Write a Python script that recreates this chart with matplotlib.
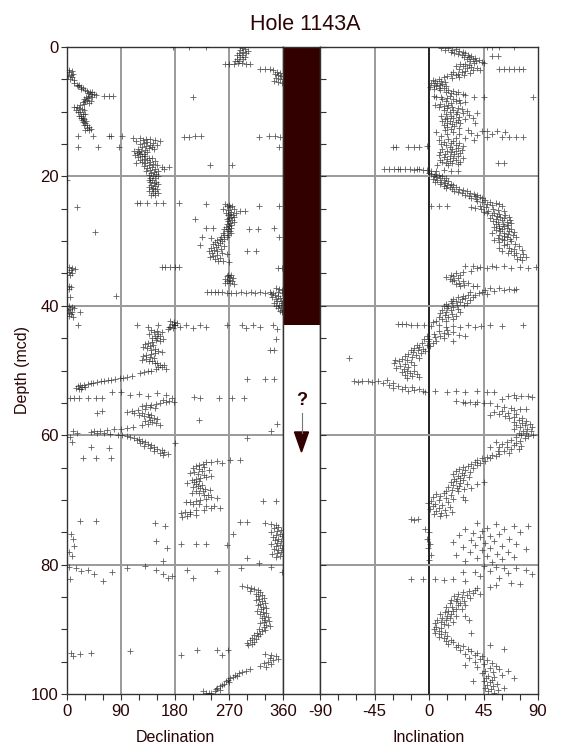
import numpy as np
import matplotlib
matplotlib.use("Agg")
import matplotlib.pyplot as plt
from matplotlib.patches import Polygon
from matplotlib.ticker import MultipleLocator

plt.rcParams['font.family'] = ['Liberation Sans', 'DejaVu Sans']
plt.rcParams['axes.unicode_minus'] = False

# declination readings (depth mcd, declination deg), upper part of hole
dec_upper = [
    (0.1, 291), (0.3, 297), (0.4, 288), (0.6, 301), (0.7, 294), (0.9, 286), (1.0, 299), (1.2, 292),
    (1.3, 284), (1.5, 296), (1.6, 289), (1.8, 283), (1.9, 293), (2.1, 287), (2.2, 280), (2.4, 291),
    (2.5, 285), (2.6, 298), (2.7, 305), (2.7, 263), (2.7, 270), (2.7, 278), (0.0, 177), (0.0, 204),
    (0.0, 232), (3.4, 322), (3.4, 330), (3.4, 338), (3.6, 344), (3.8, 350), (4.0, 355), (4.1, 347),
    (4.3, 352), (4.5, 357), (4.8, 349), (5.0, 355), (5.2, 345), (5.4, 352), (5.5, 358),
    (3.5, 4), (3.7, 8), (3.9, 3), (4.1, 10), (4.3, 6), (4.5, 2), (4.7, 9), (4.9, 5), (5.1, 12),
    (5.6, 12), (5.8, 16), (5.9, 20), (6.1, 18), (6.2, 24), (6.4, 27), (6.5, 23), (6.6, 30), (6.8, 33),
    (6.9, 38), (7.0, 42), (7.1, 35), (7.2, 40), (7.3, 45), (7.4, 48), (7.5, 62), (7.5, 70), (7.5, 76),
    (7.6, 37), (7.7, 31), (7.8, 42), (7.9, 35), (8.0, 28), (8.2, 33), (8.3, 40), (8.4, 30), (8.5, 26),
    (8.6, 36), (8.8, 29), (9.0, 22), (9.2, 17), (9.3, 12), (9.4, 20), (9.6, 25), (9.7, 15), (9.8, 28),
    (10.0, 22), (10.1, 18), (10.3, 26), (10.4, 30), (10.6, 24), (10.7, 20), (10.9, 27), (11.0, 23),
    (11.2, 29), (11.3, 25), (11.5, 32), (11.6, 27), (11.8, 30), (12.0, 34), (12.1, 29), (12.3, 37),
    (12.5, 33), (12.6, 40), (12.8, 36), (12.9, 30), (7.8, 210), (20.5, 0.5),
    (13.8, 18), (13.8, 44), (13.8, 70), (13.8, 74), (13.8, 92), (13.9, 195), (13.9, 203), (13.8, 213),
    (13.8, 224), (13.9, 320), (13.8, 337), (13.8, 346), (13.9, 355), (15.5, 18), (15.5, 52), (15.5, 87),
    (15.5, 354), (18.2, 238), (18.2, 275),
    (14.0, 110), (14.1, 122), (14.2, 131), (14.2, 139), (14.3, 147), (14.4, 126), (14.5, 155), (14.6, 115),
    (14.7, 134), (14.8, 143), (14.9, 128), (15.0, 121), (15.1, 138), (15.2, 150), (15.3, 132), (15.4, 125),
    (15.5, 141), (15.6, 136), (15.7, 118), (15.8, 145), (15.9, 130), (16.0, 112), (16.1, 124), (16.2, 133),
    (16.3, 120), (16.4, 116), (16.5, 128), (16.6, 122), (16.7, 113), (16.8, 130), (16.9, 125), (17.0, 119),
    (17.1, 136), (17.2, 142), (17.3, 128), (17.4, 121), (17.5, 133), (17.6, 147), (17.7, 125), (17.8, 138),
    (17.9, 115), (18.0, 130), (18.1, 144), (18.2, 136), (18.3, 150), (18.4, 128), (18.5, 141), (18.6, 158),
    (18.6, 170), (18.7, 134), (18.8, 146), (18.9, 162), (19.0, 139), (19.1, 151), (19.2, 131), (19.3, 145),
    (19.5, 140), (19.6, 148), (19.8, 137), (19.9, 143), (20.0, 151), (20.2, 139), (20.3, 146), (20.5, 136),
    (20.6, 142), (20.8, 149), (20.9, 138), (21.0, 145), (21.2, 152), (21.3, 140), (21.5, 147), (21.6, 137),
    (21.8, 144), (21.9, 150), (22.0, 141), (22.2, 136), (22.3, 147), (22.5, 143), (22.6, 151), (22.8, 140),
    (22.9, 146), (24.1, 116), (24.1, 122), (24.1, 133), (24.1, 149), (24.1, 160), (24.1, 187), (24.7, 16),
    (28.6, 46), (24.2, 232), (24.6, 320), (24.6, 354), (26.6, 214), (28.0, 232), (28.0, 243), (28.1, 304),
    (28.1, 318), (28.0, 345), (29.4, 225), (29.5, 240), (30.6, 222), (31.5, 300), (31.5, 315), (29.3, 353),
    (24.3, 263), (24.4, 270), (24.5, 275), (24.6, 266), (24.8, 272), (25.0, 260), (25.1, 279), (25.2, 268),
    (25.3, 288), (25.4, 296), (25.5, 274), (25.6, 265), (25.7, 281), (25.8, 271), (25.9, 276), (26.0, 268),
    (26.2, 273), (26.3, 279), (26.5, 270), (26.6, 266), (26.8, 275), (26.9, 269), (27.0, 278), (27.2, 272),
    (27.3, 266), (27.5, 274), (27.6, 270), (27.8, 265), (27.9, 273), (28.1, 268), (28.2, 262), (28.4, 271),
    (28.5, 266), (28.7, 274), (28.8, 260), (29.0, 268), (29.1, 262), (29.3, 257), (29.4, 266), (29.6, 255),
    (29.7, 261), (29.9, 250), (30.0, 258), (30.2, 247), (30.3, 255), (30.5, 244), (30.6, 252), (30.8, 262),
    (30.9, 248), (31.0, 240), (31.2, 256), (31.3, 245), (31.5, 236), (31.6, 250), (31.8, 241), (31.9, 258),
    (32.0, 266), (32.2, 250), (32.3, 244), (32.5, 238), (32.6, 255), (32.8, 247), (33.0, 260), (33.1, 252),
    (33.2, 270), (34.0, 158), (34.0, 164), (34.0, 172), (34.0, 180), (34.0, 186), (34.2, 352), (34.2, 358),
    (35.2, 268), (35.3, 274), (35.4, 266), (35.6, 271), (35.7, 276), (35.8, 264), (36.0, 270), (36.1, 275),
    (36.2, 267), (36.4, 272), (36.5, 263), (36.6, 278),
    (34.0, 4), (34.2, 9), (34.3, 13), (34.5, 6), (34.7, 3), (35.0, 8), (35.3, 5), (36.9, 3), (37.1, 7),
    (37.4, 4), (38.6, 5), (38.5, 81),
    (37.9, 234), (37.9, 240), (37.9, 246), (37.9, 252), (37.9, 258), (38.0, 266), (38.0, 274), (38.0, 282),
    (37.9, 290), (38.0, 298), (37.9, 306), (38.0, 314), (37.9, 322), (38.0, 330), (37.9, 338), (38.0, 344),
    (37.9, 352), (38.0, 358), (37.2, 348), (37.4, 354), (37.6, 358), (38.2, 340), (38.4, 346), (38.5, 352),
    (38.7, 342), (38.8, 355), (39.0, 348), (39.2, 356), (39.3, 350), (39.5, 345), (39.6, 358), (39.8, 353),
    (40.0, 349), (40.2, 356), (40.4, 352), (40.6, 358), (40.8, 355), (41.0, 359),
    (40.0, 3), (40.2, 8), (40.4, 12), (40.5, 5), (40.7, 2), (40.9, 9), (41.1, 4), (41.3, 7), (41.5, 3),
    (41.7, 10), (41.0, 22),
    (43.0, 18), (43.0, 116), (43.2, 135), (43.0, 152), (43.3, 171), (43.0, 179), (43.2, 188), (43.0, 199),
    (43.5, 210), (43.0, 221), (43.3, 232), (43.0, 266), (43.0, 291), (43.4, 299), (43.0, 310), (43.2, 321),
    (43.0, 343), (43.6, 350),
]

# declination readings below the reversed interval
dec_lower = [
    (42.3, 172), (42.5, 178), (42.6, 183), (42.8, 175), (43.0, 180), (43.2, 170), (43.4, 176), (43.6, 168),
    (43.8, 140), (43.9, 150), (44.0, 158), (44.1, 145), (44.3, 152), (44.4, 136), (44.6, 147), (44.7, 155),
    (44.9, 142), (45.0, 150), (45.2, 160), (45.3, 148), (45.5, 155), (45.6, 142), (45.8, 135), (45.9, 130),
    (46.1, 144), (46.2, 138), (46.4, 127), (46.5, 133), (46.7, 146), (46.8, 140), (47.0, 152), (47.1, 158),
    (47.3, 147), (47.4, 140), (47.6, 132), (47.7, 126), (47.9, 138), (48.0, 145), (48.2, 132), (48.3, 125),
    (48.5, 136), (48.6, 142), (48.8, 150), (48.9, 146), (49.1, 155), (49.2, 161), (49.4, 152), (49.5, 158),
    (49.7, 165), (49.8, 148), (50.0, 140), (50.1, 135), (50.3, 128), (50.4, 122), (45.2, 348), (46.8, 338),
    (46.8, 345), (50.9, 108), (51.0, 100), (51.1, 94), (51.2, 88), (51.3, 80), (51.4, 74), (51.5, 68),
    (51.6, 62), (51.7, 56), (51.8, 50), (51.9, 44), (52.0, 40), (52.1, 35), (52.2, 28), (52.3, 22),
    (52.4, 18), (52.5, 25), (52.6, 30), (52.7, 15), (52.8, 20), (52.9, 24), (51.3, 300), (51.3, 330),
    (51.3, 345), (54.2, 5), (54.2, 12), (54.2, 20), (54.2, 35), (54.2, 48), (54.2, 58), (53.3, 75),
    (53.3, 90), (53.8, 105), (53.6, 120), (54.0, 135), (53.5, 150), (53.8, 165), (54.2, 175), (54.1, 212),
    (54.3, 222), (54.2, 253), (54.3, 275), (54.2, 295), (56.5, 50), (56.3, 58), (56.9, 120), (57.7, 220),
    (54.6, 160), (54.7, 170), (54.8, 178), (54.9, 165), (55.0, 155), (55.2, 148), (55.3, 140), (55.4, 132),
    (55.5, 125), (55.7, 138), (55.8, 146), (56.0, 130), (56.1, 118), (56.3, 108), (56.4, 100), (56.5, 112),
    (56.6, 125), (56.8, 135), (56.9, 140), (57.1, 128), (57.2, 136), (57.4, 145), (57.5, 150), (57.6, 138),
    (57.8, 130), (57.9, 142), (58.1, 148), (58.2, 135), (58.4, 125), (58.5, 155),
    (58.8, 110), (58.9, 100), (59.0, 90), (59.1, 78), (59.2, 66), (59.3, 55), (59.4, 45), (59.5, 40),
    (59.6, 50), (59.7, 62), (59.8, 72), (59.9, 85), (60.0, 92), (60.1, 100), (59.4, 10), (59.6, 16),
    (60.3, 105), (60.5, 112), (60.6, 120), (60.8, 116), (60.9, 125), (61.1, 130), (61.2, 122), (61.4, 135),
    (61.5, 140), (61.7, 128), (61.9, 145), (62.0, 138), (62.2, 150), (62.3, 158), (62.5, 145), (62.6, 162),
    (62.8, 155), (62.9, 168), (63.0, 160), (63.6, 27), (63.6, 49), (63.6, 74), (63.8, 271), (63.8, 288),
    (60.5, 300), (59.4, 340), (58.3, 350), (60.3, 5), (61.0, 8), (61.9, 40), (62.0, 70), (61.2, 180),
    (64.0, 250), (64.1, 240), (64.2, 232), (64.3, 258), (64.5, 226), (64.6, 220), (64.8, 215), (64.9, 228),
    (65.1, 210), (65.2, 220), (65.4, 236), (65.5, 225), (65.7, 212), (65.8, 205), (66.0, 218), (66.1, 228),
    (66.3, 240), (66.4, 232), (66.6, 222), (66.8, 215), (66.9, 208), (67.1, 220), (67.2, 212), (67.4, 200),
    (67.5, 215), (67.7, 225), (67.8, 218), (68.0, 210), (68.1, 222), (68.3, 230), (68.4, 238), (68.6, 226),
    (68.7, 215), (68.9, 208), (69.0, 220), (69.2, 235), (69.3, 228), (69.5, 240), (69.7, 250), (69.8, 232),
    (70.0, 222), (70.1, 215), (70.3, 205), (70.4, 198), (70.6, 210), (70.7, 220), (70.9, 232), (71.0, 245),
    (71.2, 255), (71.3, 240), (71.5, 228), (71.6, 215), (71.8, 205), (71.9, 196), (72.1, 190), (72.2, 205),
    (72.4, 215), (72.5, 200), (72.7, 192), (70.2, 327), (70.2, 349), (73.3, 21), (73.3, 49), (73.5, 146),
    (74.0, 163), (75.3, 7), (76.1, 10), (76.3, 149), (77.5, 166), (76.8, 190), (76.8, 215), (76.8, 232),
    (77.0, 266), (75.2, 277), (73.4, 288), (73.4, 300),
    (73.5, 330), (73.7, 340), (73.9, 348), (74.2, 352), (74.4, 345), (74.6, 356), (74.8, 350), (75.0, 340),
    (75.2, 355), (75.4, 348), (75.6, 358), (75.8, 343), (76.0, 352), (76.2, 346), (76.4, 357), (76.6, 350),
    (76.8, 340), (77.0, 355), (77.2, 348), (77.4, 358), (77.6, 345), (77.8, 352), (78.0, 357), (78.2, 350),
    (78.4, 342), (78.6, 355), (78.8, 348), (77.1, 12), (78.0, 4), (78.6, 8),
    (80.3, 4), (80.5, 15), (81.0, 24), (80.8, 35), (81.5, 45), (81.2, 75), (80.5, 100), (80.2, 130),
    (80.8, 148), (81.5, 160), (82.0, 168), (81.8, 175), (80.9, 200), (82.0, 210), (81.0, 250), (80.6, 290),
    (80.4, 340), (81.2, 358), (79.5, 160), (79.0, 300), (79.8, 320), (82.2, 5), (82.5, 60),
    (83.3, 292), (83.5, 300), (83.6, 306), (83.8, 312), (84.0, 318), (84.1, 305), (84.3, 322), (84.5, 315),
    (84.7, 325), (84.9, 318), (85.1, 328), (85.3, 320), (85.5, 315), (85.7, 325), (85.9, 330), (86.1, 322),
    (86.3, 318), (86.5, 327), (86.7, 332), (86.9, 324), (87.1, 316), (87.3, 326), (87.5, 332), (87.7, 322),
    (87.9, 328), (88.1, 335), (88.3, 325), (88.5, 330), (88.7, 336), (88.9, 328), (89.1, 322), (89.3, 332),
    (89.5, 338), (89.7, 328), (89.9, 320), (90.1, 330), (90.3, 325), (90.5, 316), (90.7, 322), (90.9, 312),
    (91.1, 318), (91.3, 308), (91.5, 315), (91.7, 305), (91.9, 312), (92.1, 300), (92.3, 308), (92.5, 302),
    (93.8, 330), (94.0, 340), (94.2, 348), (94.4, 338), (94.6, 352), (94.8, 344), (95.0, 335), (95.2, 328),
    (95.4, 340), (95.6, 322), (95.8, 332),
    (96.2, 305), (96.4, 298), (96.6, 292), (96.8, 286), (97.0, 280), (97.2, 283), (97.4, 276), (97.6, 272),
    (97.8, 268), (98.0, 265), (98.2, 270), (98.4, 262), (98.6, 258), (98.8, 255), (99.0, 250), (99.2, 248),
    (99.4, 255), (99.6, 246), (99.8, 240), (99.9, 236), (99.6, 227), (99.8, 232),
    (93.6, 7), (94.1, 10), (93.8, 21), (93.7, 40), (93.3, 105), (94.0, 190), (93.2, 216), (93.2, 250),
    (94.0, 258), (93.2, 268),
]

# inclination readings (depth mcd, inclination deg), upper part of hole
inc_upper = [
    (0.1, 10), (0.2, 16), (0.3, 22), (0.4, 13), (0.5, 19), (0.6, 25), (0.7, 18), (0.8, 28), (0.9, 21),
    (1.0, 30), (1.1, 24), (1.2, 32), (1.3, 27), (1.4, 35), (1.5, 29), (1.6, 33), (1.7, 38), (1.8, 31),
    (1.9, 36), (2.0, 41), (2.1, 34), (2.2, 39), (2.3, 44), (2.4, 45), (2.5, 37), (2.6, 30), (2.7, 26),
    (2.8, 33), (2.9, 22), (3.0, 28), (3.1, 35), (3.2, 40), (3.3, 31), (3.4, 25), (3.5, 36), (3.6, 42),
    (3.7, 30), (3.8, 20), (3.9, 27), (4.0, 34), (4.1, 24), (4.2, 18), (4.3, 29), (4.4, 22), (4.5, 15),
    (4.6, 25), (4.7, 12), (4.8, 19), (3.4, 58), (3.4, 62), (3.4, 66), (3.4, 70), (3.4, 74), (3.4, 78),
    (1.4, 52), (1.4, 57), (0.0, 48), (0.0, 52), (0.0, 58), (0.0, 70),
    (5.0, 8), (5.1, 3), (5.2, 10), (5.3, 5), (5.4, 13), (5.5, 2), (5.6, 7), (5.7, 11), (5.8, 4), (5.9, 9),
    (6.0, 14), (6.1, 6), (6.2, 1), (6.3, 8), (6.4, 12), (6.5, 4), (6.6, 16), (6.7, 9), (6.8, 20), (6.9, 14),
    (7.0, 24), (7.1, 18), (7.2, 28), (7.3, 22), (7.4, 30), (7.5, 17), (7.8, 86), (7.8, 45), (7.8, 37),
    (7.6, 4), (7.7, 10), (7.8, 6), (7.9, 15), (8.0, 11), (8.1, 20), (8.2, 25), (8.3, 14), (8.4, 22),
    (8.5, 30), (8.6, 18), (8.7, 26), (8.8, 9), (8.9, 16), (9.0, 5), (9.1, 12), (9.2, 19), (9.3, 8),
    (9.4, 24), (9.5, 15), (9.6, 27), (9.7, 12), (9.8, 20), (9.9, 31), (10.0, 23), (10.1, 17), (10.2, 28),
    (10.3, 14), (10.4, 22), (10.5, 33), (10.6, 18), (10.7, 10), (10.8, 25), (10.9, 15), (11.0, 20),
    (11.1, 30), (11.2, 13), (11.3, 24), (11.4, 17), (11.5, 11), (11.6, 22), (11.7, 15), (11.8, 26),
    (11.9, 19), (12.0, 12), (12.2, 21), (12.3, 15), (12.5, 25), (12.6, 18), (12.8, 13), (10.2, 40),
    (10.9, 36), (11.8, 38),
    (12.9, 32), (13.0, 44), (13.0, 48), (13.0, 56), (13.1, 20), (13.2, 6), (13.3, 35), (13.5, 25),
    (13.5, 15), (13.6, 40), (13.8, 10), (13.9, 48), (13.9, 60), (13.9, 66), (13.9, 72), (13.9, 78),
    (14.0, 30), (14.1, 22), (14.2, 16), (14.3, 37), (14.4, 8), (13.4, 52), (13.2, 63),
    (15.5, -30), (15.5, -27), (15.5, -17), (15.5, -12), (15.4, -8), (15.3, -2),
    (14.6, 20), (14.7, 12), (14.8, 25), (14.9, 18), (15.0, 10), (15.1, 22), (15.2, 14), (15.3, 28),
    (15.5, 17), (15.6, 24), (15.7, 11), (15.8, 19), (15.9, 27), (16.0, 15), (16.1, 22), (16.2, 9),
    (16.3, 18), (16.4, 26), (16.5, 13), (16.6, 21), (16.7, 8), (16.8, 17), (16.9, 24), (17.0, 12),
    (17.1, 20), (17.2, 28), (17.3, 15), (17.4, 9), (17.5, 22), (17.6, 17), (17.7, 26), (17.8, 11),
    (17.9, 19), (18.0, 14), (18.1, 24), (18.2, 7), (18.3, 16), (18.0, 57), (18.0, 62),
    (18.8, -37), (18.8, -33), (18.8, -29), (18.9, -24), (18.8, -20), (18.9, -16), (19.0, -12), (18.9, -8),
    (19.0, -5), (19.0, -2), (19.1, 2), (19.1, 6), (19.0, 12), (19.2, 18), (19.1, 24), (18.8, -26),
    (18.9, -10),
    (19.5, 0), (19.6, 5), (19.7, 2), (19.8, 8), (19.9, 4), (20.0, 11), (20.1, 6), (20.2, 14), (20.3, 9),
    (20.4, 3), (20.5, 12), (20.6, 7), (20.7, 16), (20.8, 10), (20.9, 5), (21.0, 13), (21.1, 18), (21.2, 9),
    (21.3, 15), (21.4, 20), (21.5, 12), (21.6, 17), (21.7, 22), (21.8, 14), (21.9, 25), (22.0, 19),
    (22.1, 28), (22.2, 21), (22.3, 31), (22.4, 24), (22.5, 34), (22.6, 27), (22.7, 37), (22.8, 30),
    (22.9, 40), (23.0, 33), (23.1, 38), (23.2, 42), (23.3, 35), (23.4, 44), (23.5, 39),
    (24.6, 2), (24.6, 8), (24.6, 15),
    (23.7, 46), (23.8, 40), (23.9, 50), (24.0, 44), (24.1, 55), (24.2, 48), (24.3, 58), (24.4, 52),
    (24.5, 42), (24.6, 60), (24.7, 35), (24.8, 47), (24.9, 38), (25.0, 53), (25.1, 43), (25.2, 57),
    (25.3, 49), (25.4, 62), (25.5, 45), (25.6, 54), (25.7, 48), (25.8, 58), (25.9, 52), (26.0, 63),
    (26.1, 56), (26.2, 66), (26.3, 59), (26.4, 50), (26.5, 62), (26.6, 55), (26.7, 67), (26.8, 60),
    (26.9, 53), (27.0, 64), (27.1, 57), (27.2, 68), (27.3, 61), (27.4, 55), (27.5, 65), (27.6, 58),
    (27.7, 62), (27.8, 54), (27.9, 64), (28.0, 58), (28.1, 68), (28.2, 60), (28.3, 55), (28.4, 66),
    (28.5, 59), (28.6, 70), (28.7, 62), (28.8, 52), (28.9, 65), (29.0, 58), (29.1, 69), (29.2, 62),
    (29.3, 72), (29.4, 64), (29.5, 57), (29.6, 67), (29.7, 60), (29.8, 54), (29.9, 62), (30.0, 68),
    (30.2, 58), (30.4, 64), (30.5, 71), (30.6, 62), (30.8, 74), (31.0, 66), (31.1, 58), (31.2, 70),
    (31.4, 77), (31.5, 68), (31.6, 60), (31.8, 72), (31.9, 65), (32.0, 78), (32.2, 70), (32.4, 75),
    (32.5, 80), (32.7, 73), (32.9, 77),
    (33.8, 30), (33.9, 36), (34.0, 42), (34.1, 48), (34.0, 55), (33.9, 62), (34.2, 68), (34.0, 75),
    (34.1, 82), (34.0, 88), (33.9, 52), (34.2, 40),
    (34.6, 35), (34.8, 28), (35.0, 22), (35.2, 18), (35.3, 26), (35.4, 20), (35.6, 14), (35.7, 24),
    (35.8, 17), (36.0, 21), (36.1, 28), (36.2, 19), (36.4, 25), (36.5, 32), (36.6, 22), (36.8, 29),
    (36.9, 36), (37.0, 26), (37.0, 40), (37.2, 50), (37.3, 58), (37.4, 66), (37.4, 72), (37.6, 62),
    (37.7, 54), (37.8, 44), (37.9, 34), (38.0, 41), (38.1, 48), (37.5, 46), (37.6, 70),
    (38.3, 38), (38.4, 32), (38.5, 28), (38.6, 36), (38.7, 24), (38.8, 30), (38.9, 20), (39.0, 27),
    (39.1, 34), (39.2, 22), (39.3, 18), (39.4, 26), (39.5, 31), (39.6, 19), (39.7, 14), (39.8, 23),
    (39.9, 29), (40.0, 16), (40.1, 12), (40.2, 20), (40.4, 15), (40.5, 24), (40.6, 11), (40.7, 18),
    (40.9, 26), (41.0, 14), (41.1, 9), (41.3, 19), (41.4, 13), (41.6, 22), (41.7, 8), (41.8, 16),
    (42.0, 11), (42.1, 20), (42.3, 6), (42.4, 14), (42.5, 3),
    (42.8, -26), (42.8, -22), (42.8, -19), (42.9, -15), (43.0, -10), (42.9, -4), (43.1, 2), (43.0, 8),
    (43.2, 14), (43.1, 20), (43.3, 26), (43.0, 32), (43.2, 38), (43.1, 43), (43.0, 50), (43.1, 60),
    (43.0, 78),
]

# inclination readings below the reversed interval
inc_lower = [
    (43.8, 15), (43.9, 8), (44.0, 20), (44.2, 12), (44.3, 4), (44.4, 16), (44.6, 9), (44.7, -2),
    (44.8, 5), (45.0, 12), (45.1, 0), (45.2, -4), (45.4, 6), (45.5, -1), (45.7, 3), (45.8, -6),
    (46.0, -2), (46.1, -10), (46.2, 1), (46.3, -8), (44.5, 25), (44.6, 30), (45.4, 20), (46.5, -12),
    (46.6, -5), (46.8, -15), (46.9, -9), (47.0, -3), (47.2, -13), (47.3, -7), (47.5, -17), (47.6, -11),
    (47.8, -20), (47.9, -14), (48.0, -8), (48.1, -66),
    (48.2, -22), (48.3, -28), (48.4, -18), (48.6, -25), (48.7, -15), (48.8, -29), (49.0, -20), (49.1, -12),
    (49.3, -24), (49.4, -17), (49.6, -27), (49.7, -21),
    (50.0, -18), (50.1, -12), (50.3, -22), (50.4, -16), (50.6, -10), (50.7, -20), (50.9, -14), (51.0, -8),
    (51.2, -18), (51.5, -35), (51.6, -42), (51.7, -50), (51.7, -55), (51.8, -59), (51.8, -47), (51.9, -38),
    (52.0, -30), (51.6, -62),
    (52.3, -33), (52.4, -26), (52.5, -20), (52.6, -14), (52.7, -30), (52.8, -8), (52.9, -22), (53.0, -12),
    (53.1, -5), (53.2, -17), (53.3, -3),
    (53.2, 5), (53.3, 15), (53.1, 22), (53.4, 30), (53.2, 40), (53.4, 48), (53.3, 54),
    (53.8, 70), (53.9, 76), (54.0, 82), (54.1, 85), (53.9, 65), (54.3, 72), (54.4, 60),
    (54.7, 22), (54.8, 28), (54.9, 34), (54.8, 40), (55.0, 45), (55.1, 50), (55.0, 30), (55.2, 38),
    (55.5, 56), (55.6, 62), (55.8, 68), (55.9, 75), (56.0, 80), (56.1, 70), (56.3, 60), (56.4, 54),
    (56.5, 65), (56.7, 72), (56.8, 58), (56.9, 50), (57.0, 63), (57.2, 70), (57.3, 77), (57.4, 66),
    (57.6, 74), (57.8, 80), (57.9, 70), (58.1, 77), (58.2, 83), (58.4, 72), (58.5, 79), (58.7, 85),
    (58.8, 75), (59.0, 81), (59.1, 70), (59.3, 78), (59.4, 84), (59.6, 74), (59.7, 80), (59.9, 86),
    (60.0, 76), (60.2, 82), (60.3, 72), (60.5, 79),
    (60.7, 68), (60.9, 75), (61.0, 64), (61.2, 72), (61.3, 60), (61.5, 70), (61.6, 76), (61.8, 64),
    (61.9, 58), (62.1, 68), (62.2, 74), (62.4, 62), (62.5, 57), (62.7, 66), (61.0, 55), (61.8, 50),
    (62.9, 58), (63.0, 52), (63.2, 55), (63.3, 48), (63.5, 44), (63.6, 50), (63.8, 40), (64.0, 46),
    (64.1, 38), (64.3, 42), (64.5, 35), (64.6, 40),
    (64.8, 32), (64.9, 28), (65.1, 36), (65.2, 25), (65.4, 30), (65.5, 22), (65.7, 34), (65.8, 27),
    (66.0, 20), (66.1, 29), (66.3, 24), (66.4, 33), (66.6, 26), (66.7, 21),
    (66.9, 28), (67.1, 22), (67.2, 18), (67.4, 26), (67.5, 31), (67.7, 20), (67.8, 25), (68.0, 16),
    (68.1, 23), (68.3, 29), (68.4, 19), (68.6, 14), (68.7, 24), (67.2, 45), (67.5, 40), (68.2, 35),
    (69.0, 12), (69.1, 6), (69.3, 18), (69.4, 9), (69.6, 3), (69.7, 14), (69.9, 20), (70.0, 8),
    (70.2, 2), (70.3, 16), (69.5, 28), (70.0, 30),
    (70.5, -1), (70.7, 5), (70.8, 11), (71.0, 3), (71.1, 17), (71.3, 8), (71.4, 1), (71.6, 13),
    (71.7, 6), (71.9, 19), (72.0, 10), (72.2, 4), (72.3, 14), (72.5, 9),
    (73.0, -15), (73.1, -12), (73.0, -9),
    (73.6, 40), (73.8, 55), (74.0, 70), (74.0, 82), (74.3, 48), (74.5, 30), (74.5, 62), (74.8, 44),
    (75.0, 75), (75.1, 36), (75.3, 58), (75.5, 25), (75.6, 50), (75.8, 42), (76.0, 66), (76.2, 35),
    (76.3, 54), (76.5, 20), (76.6, 46), (76.8, 72), (77.0, 38), (77.1, 60), (77.3, 28), (77.5, 50),
    (77.6, 80), (77.8, 44), (78.0, 65), (78.1, 34), (78.3, 56), (78.5, 22), (78.7, 48), (78.9, 70),
    (79.0, 40), (79.2, 60), (79.4, 30), (79.6, 52),
    (74.5, -3), (75.0, 0), (76.0, -2), (76.8, 1), (77.5, -1), (78.5, 2), (79.3, 0),
    (80.2, 45), (80.4, 55), (80.5, 62), (80.6, 72), (80.8, 80), (81.0, 50), (81.2, 38), (81.1, 28),
    (81.3, 65), (81.5, 85), (81.7, 42), (82.0, 58), (82.2, -15), (82.2, -5), (82.3, 5), (82.4, 12),
    (82.3, 20), (82.5, 30), (82.8, 68), (83.0, 75), (83.2, 55), (83.5, 50), (83.6, 40),
    (83.9, 38), (84.1, 33), (84.2, 28), (84.4, 36), (84.5, 24), (84.7, 31), (84.8, 21), (85.0, 27),
    (85.1, 34), (85.3, 23), (85.4, 18), (85.6, 29), (85.7, 22), (85.9, 26), (86.0, 17), (86.2, 24),
    (86.3, 30), (86.5, 19), (86.6, 14), (86.8, 22), (86.9, 27), (87.1, 16), (87.2, 20), (84.6, 42),
    (87.4, 13), (87.6, 18), (87.7, 9), (87.9, 15), (88.0, 22), (88.2, 11), (88.3, 17), (88.5, 7),
    (88.6, 14), (88.8, 20), (88.9, 10), (89.1, 5), (89.2, 12), (89.4, 16), (88.0, 30), (88.5, 33),
    (89.6, 6), (89.8, 10), (90.0, 4), (90.2, 8), (90.4, 13), (90.6, 5), (90.8, 10), (91.0, 15),
    (91.2, 8), (91.4, 12), (91.6, 18), (91.8, 14), (92.0, 20), (92.2, 16), (92.4, 24), (90.5, 35),
    (92.6, 28), (92.8, 22), (93.0, 32), (93.2, 26), (93.4, 35), (93.6, 40), (93.8, 30), (94.0, 38),
    (94.2, 44), (94.4, 33), (92.5, 50), (93.0, 62),
    (94.6, 42), (94.8, 48), (95.0, 38), (95.2, 52), (95.4, 45), (95.6, 55), (95.8, 40), (96.0, 50),
    (96.2, 58), (96.4, 46), (96.6, 53), (96.8, 44), (97.0, 60), (97.2, 49), (97.4, 54), (97.6, 47),
    (97.8, 52), (98.0, 45), (98.2, 50), (98.4, 56), (98.6, 48), (98.8, 53), (99.0, 46), (99.2, 51),
    (99.4, 57), (99.6, 49), (99.8, 54), (95.5, 30), (96.5, 65), (97.5, 70), (98.0, 36), (99.0, 62),
]

# polarity column: normal interval top/base (mcd), uncertain below
normal_top = 0.0
normal_base = 42.9

TXT = '#2b0505'
DARK = '#330000'
GRID = '#9a9a9a'

dec = np.array(dec_upper + dec_lower)
inc = np.array(inc_upper + inc_lower)

fig = plt.figure(figsize=(5.69, 7.55), dpi=100)
bot, hgt = 61 / 755, 647 / 755
ax_dec = fig.add_axes([67 / 569, bot, 216 / 569, hgt])
ax_pol = fig.add_axes([283 / 569, bot, 37 / 569, hgt])
ax_inc = fig.add_axes([320 / 569, bot, 218 / 569, hgt])

mk = dict(ls='none', marker='+', ms=4.5, mew=0.6, color='#1a1a1a', alpha=0.7, zorder=3)

# declination
for v in [90, 180, 270]:
    ax_dec.axvline(v, color=GRID, lw=1.4, zorder=1)
for d in [20, 40, 60, 80]:
    ax_dec.axhline(d, color=GRID, lw=1.4, zorder=1)
ax_dec.plot(dec[:, 1], dec[:, 0], **mk)
ax_dec.set_xlim(0, 360)
ax_dec.set_ylim(100, 0)
ax_dec.xaxis.set_major_locator(MultipleLocator(90))
ax_dec.xaxis.set_minor_locator(MultipleLocator(30))
ax_dec.yaxis.set_major_locator(MultipleLocator(20))
ax_dec.yaxis.set_minor_locator(MultipleLocator(5))
ax_dec.set_xlabel('Declination', fontsize=11.5, color=TXT, labelpad=8)
ax_dec.set_ylabel('Depth (mcd)', fontsize=11.5, color=TXT)
ax_dec.yaxis.set_label_coords(-37 / 216, 0.5)

# inclination
for v in [-45, 45]:
    ax_inc.axvline(v, color=GRID, lw=1.4, zorder=1)
ax_inc.axvline(0, color='#222222', lw=1.4, zorder=1)
for d in [20, 40, 60, 80]:
    ax_inc.axhline(d, color=GRID, lw=1.4, zorder=1)
ax_inc.plot(inc[:, 1], inc[:, 0], **mk)
ax_inc.set_xlim(-90, 90)
ax_inc.set_ylim(100, 0)
ax_inc.xaxis.set_major_locator(MultipleLocator(45))
ax_inc.xaxis.set_minor_locator(MultipleLocator(15))
ax_inc.yaxis.set_major_locator(MultipleLocator(20))
ax_inc.yaxis.set_minor_locator(MultipleLocator(5))
ax_inc.set_xlabel('Inclination', fontsize=11.5, color=TXT, labelpad=8)
ax_inc.tick_params(axis='y', which='both', direction='in', labelleft=False, length=4)

for ax in (ax_dec, ax_inc):
    ax.tick_params(which='both', color='#333333', width=0.8, labelcolor=TXT, labelsize=12)
    ax.tick_params(axis='x', which='both', direction='out', length=4, pad=3)
    for s in ax.spines.values():
        s.set_color('#333333')
        s.set_linewidth(1.0)
ax_dec.tick_params(axis='y', which='both', direction='out', length=4, pad=2)

# polarity column
ax_pol.set_xlim(0, 1)
ax_pol.set_ylim(100, 0)
ax_pol.axhspan(normal_top, normal_base, color=DARK, lw=0)
ax_pol.plot([0.5, 0.5], [56.6, 59.6], color='#777777', lw=0.8)
ax_pol.add_patch(Polygon([(0.31, 59.5), (0.69, 59.5), (0.5, 62.6)], closed=True,
                         facecolor=DARK, edgecolor=DARK))
ax_pol.text(0.5, 54.6, '?', ha='center', va='center', fontsize=13, fontweight='bold', color=DARK)
ax_pol.set_xticks([])
ax_pol.set_yticks([])
for s in ax_pol.spines.values():
    s.set_color('#333333')
    s.set_linewidth(1.0)

fig.text(305 / 569, 1 - 24 / 755, 'Hole 1143A', ha='center', va='center', fontsize=15.5, color=TXT)

fig.savefig('out.png', dpi=100)
